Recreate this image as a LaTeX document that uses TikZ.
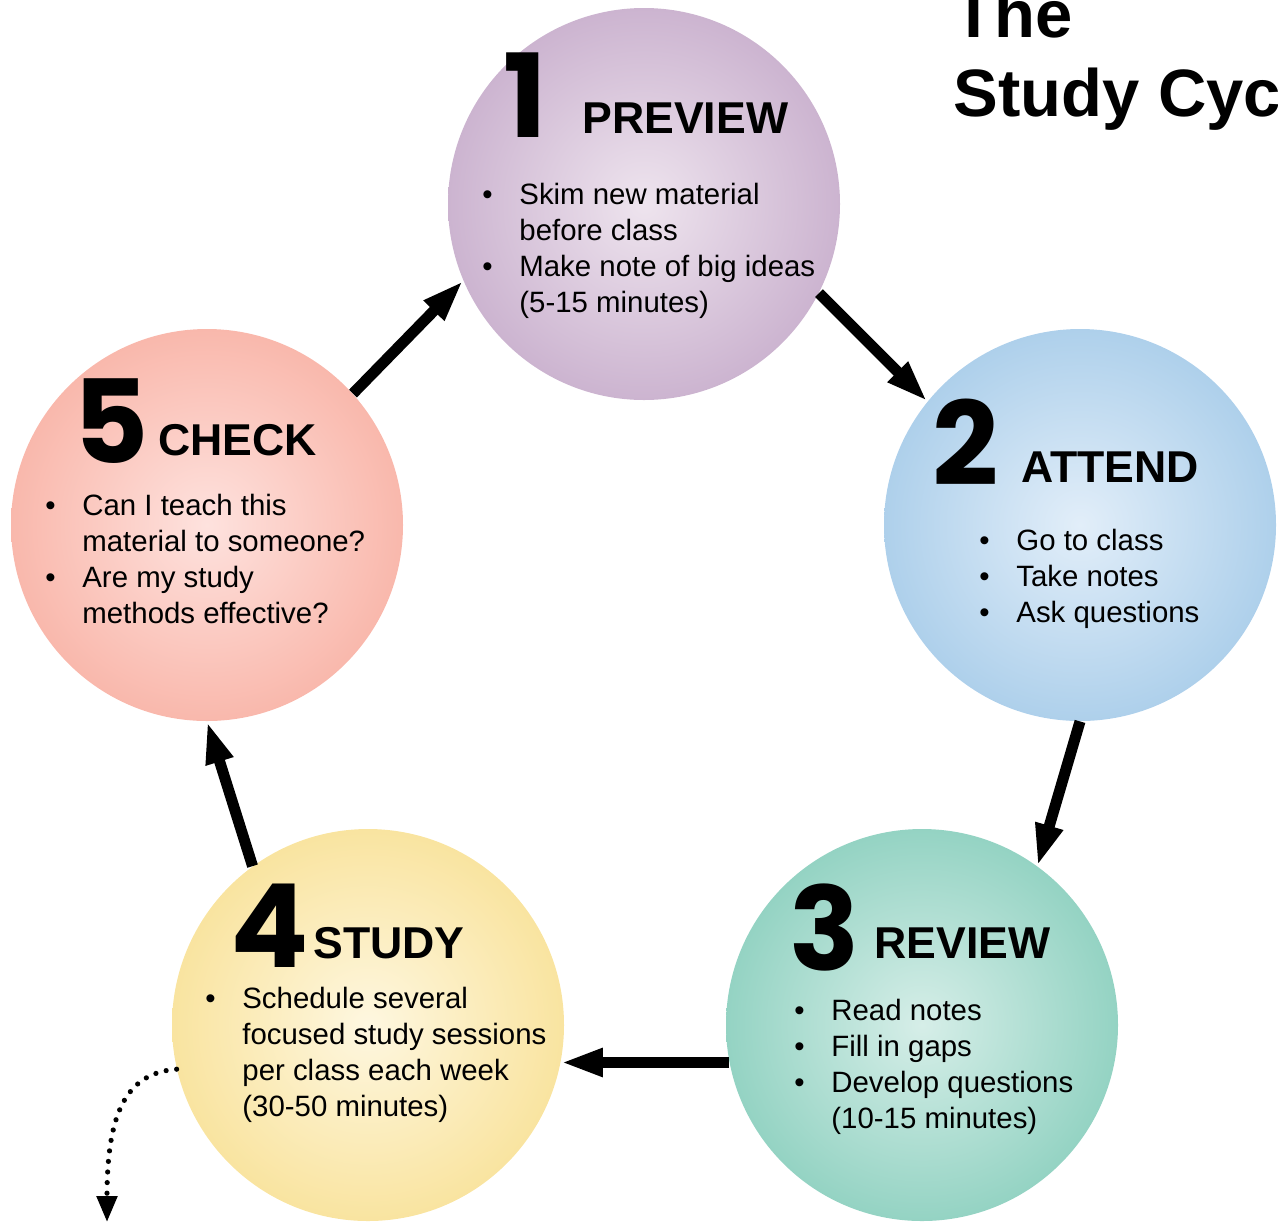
\documentclass[tikz,border=0pt]{standalone}
\usepackage{fontspec}
\setmainfont{Liberation Sans}
\newfontfamily\numfont{Poppins}
\usetikzlibrary{arrows.meta}
\newcommand{\bulletlist}[1]{\begin{tabular}[t]{@{}p{18.5pt}@{}l@{}}#1\end{tabular}}

\begin{document}
\begin{tikzpicture}[
    x=0.5pt, y=-0.5pt,
    stepcircle/.style={circle, minimum size=196pt, inner sep=0pt, shading=radial},
    stepnum/.style={anchor=base west, inner sep=0pt, text depth=0pt, text height=41pt,
        font=\numfont\bfseries\fontsize{58}{58}\selectfont},
    stephead/.style={anchor=base west, inner sep=0pt, font=\bfseries\fontsize{22.3}{26}\selectfont},
    steplist/.style={anchor=base west, inner sep=0pt, font=\fontsize{14.7}{18}\selectfont},
    titletext/.style={anchor=base west, inner sep=0pt, font=\bfseries\fontsize{33.5}{39}\selectfont},
    cyclearrow/.style={line width=5.5pt, -{Triangle[length=21pt,width=13pt]}},
    exitarrow/.style={line width=2.6pt, line cap=round, dash pattern=on 0pt off 5.3pt,
        -{Triangle[length=13pt,width=10pt]}}
    ]
    \useasboundingbox (0,0) rectangle (1278,1222);
    % circles
    \node[stepcircle, inner color={rgb,255:red,238;green,228;blue,238}, outer color={rgb,255:red,204;green,180;blue,208}] (preview) at (644,204) {};
    \node[stepcircle, inner color={rgb,255:red,226;green,238;blue,249}, outer color={rgb,255:red,174;green,208;blue,235}] (attend) at (1080,525) {};
    \node[stepcircle, inner color={rgb,255:red,214;green,238;blue,232}, outer color={rgb,255:red,148;green,211;blue,195}] (review) at (922,1025) {};
    \node[stepcircle, inner color={rgb,255:red,254;green,247;blue,224}, outer color={rgb,255:red,249;green,228;blue,160}] (study) at (368,1025) {};
    \node[stepcircle, inner color={rgb,255:red,254;green,226;blue,222}, outer color={rgb,255:red,249;green,184;blue,172}] (check) at (207,525) {};

    % title
    \node[titletext] (title1) at (953,37) {The};
    \node[titletext] (title2) at (953,116) {Study Cycle};

    % 1 preview
    \node[stepnum] (preview-num) at (503,137) {1};
    \node[stephead] (preview-head) at (582,133) {PREVIEW};
    \node[steplist] (preview-list) at (482,204) {\bulletlist{%
        \textbullet & Skim new material\\ & before class\\
        \textbullet & Make note of big ideas\\ & (5-15 minutes)}};

    % 2 attend
    \node[stepnum] (attend-num) at (932,485) {2};
    \node[stephead] (attend-head) at (1021,482) {ATTEND};
    \node[steplist] (attend-list) at (979,550) {\bulletlist{%
        \textbullet & Go to class\\
        \textbullet & Take notes\\
        \textbullet & Ask questions}};

    % 3 review
    \node[stepnum] (review-num) at (789,970) {3};
    \node[stephead] (review-head) at (874,958) {REVIEW};
    \node[steplist] (review-list) at (794,1020) {\bulletlist{%
        \textbullet & Read notes\\
        \textbullet & Fill in gaps\\
        \textbullet & Develop questions\\ & (10-15 minutes)}};

    % 4 study
    \node[stepnum] (study-num) at (230,967) {4};
    \node[stephead] (study-head) at (313,958) {STUDY};
    \node[steplist] (study-list) at (205,1008) {\bulletlist{%
        \textbullet & Schedule several\\ & focused study sessions\\
        & per class each week\\ & (30-50 minutes)}};

    % 5 check
    \node[stepnum] (check-num) at (73,463) {5};
    \node[stephead] (check-head) at (158,455) {CHECK};
    \node[steplist] (check-list) at (45,515) {\bulletlist{%
        \textbullet & Can I teach this\\ & material to someone?\\
        \textbullet & Are my study\\ & methods effective?}};

    % cycle
    \draw[cyclearrow] (preview.333) -- (attend.141);
    \draw[cyclearrow] (attend.270) -- (review.54);
    \draw[cyclearrow] (review.191) -- (study.349);
    \draw[cyclearrow] (study.126.5) -- (check.270);
    \draw[cyclearrow] (check.42.5) -- (preview.203);

    % way out
    \coordinate (next) at (107,1222);
    \draw[exitarrow] (study.193.5) .. controls (125,1073) and (107,1115) .. (next);
\end{tikzpicture}
\end{document}
